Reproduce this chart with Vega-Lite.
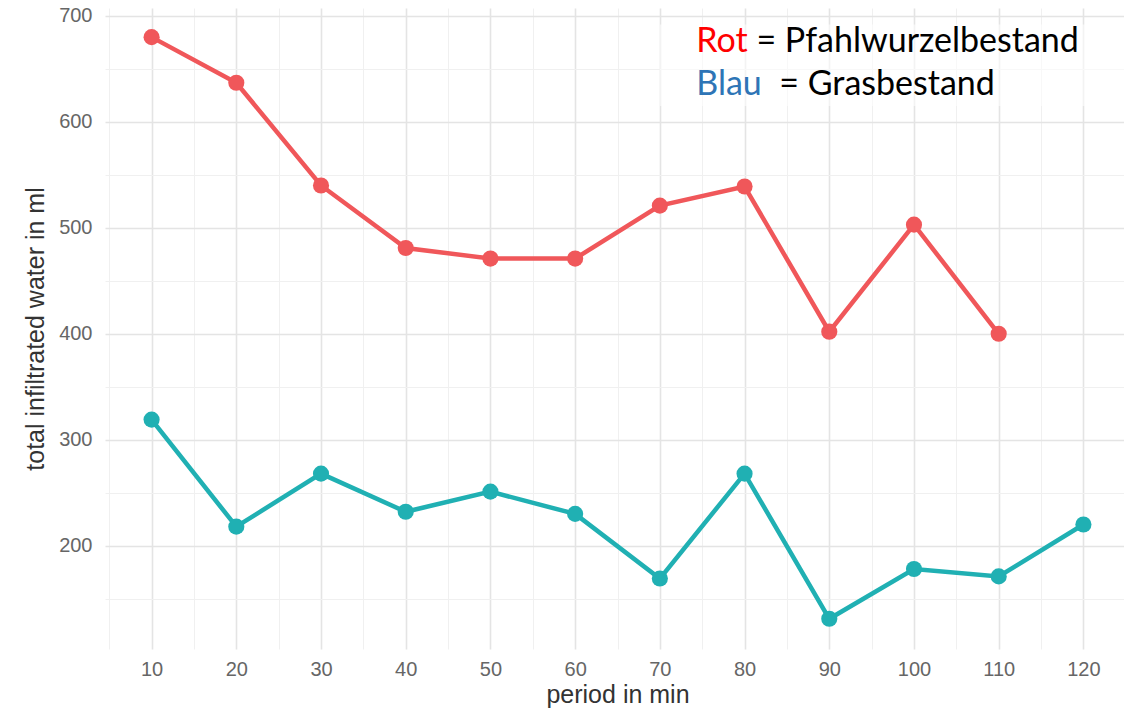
{
  "$schema": "https://vega.github.io/schema/vega-lite/v6.json",
  "width": 1025,
  "height": 641,
  "autosize": {"type": "none"},
  "padding": {"left": 105, "top": 8, "right": 0, "bottom": 66},
  "background": "white",
  "config": {
    "view": {"stroke": null},
    "axis": {
      "labelFont": "Liberation Sans",
      "titleFont": "Liberation Sans",
      "labelFontSize": 20,
      "titleFontSize": 25,
      "labelColor": "#666666",
      "titleColor": "#333333",
      "titleFontWeight": "normal",
      "ticks": false,
      "domain": false,
      "labelOverlap": false,
      "labelFlush": false
    }
  },
  "layer": [
    {
      "data": {
        "values": [
          {"period": 10, "value": 680, "series": "Pfahlwurzelbestand"},
          {"period": 20, "value": 637, "series": "Pfahlwurzelbestand"},
          {"period": 30, "value": 540, "series": "Pfahlwurzelbestand"},
          {"period": 40, "value": 481, "series": "Pfahlwurzelbestand"},
          {"period": 50, "value": 471, "series": "Pfahlwurzelbestand"},
          {"period": 60, "value": 471, "series": "Pfahlwurzelbestand"},
          {"period": 70, "value": 521, "series": "Pfahlwurzelbestand"},
          {"period": 80, "value": 539, "series": "Pfahlwurzelbestand"},
          {"period": 90, "value": 402, "series": "Pfahlwurzelbestand"},
          {"period": 100, "value": 503, "series": "Pfahlwurzelbestand"},
          {"period": 110, "value": 400, "series": "Pfahlwurzelbestand"},
          {"period": 10, "value": 319, "series": "Grasbestand"},
          {"period": 20, "value": 218, "series": "Grasbestand"},
          {"period": 30, "value": 268, "series": "Grasbestand"},
          {"period": 40, "value": 232, "series": "Grasbestand"},
          {"period": 50, "value": 251, "series": "Grasbestand"},
          {"period": 60, "value": 230, "series": "Grasbestand"},
          {"period": 70, "value": 169, "series": "Grasbestand"},
          {"period": 80, "value": 268, "series": "Grasbestand"},
          {"period": 90, "value": 131, "series": "Grasbestand"},
          {"period": 100, "value": 178, "series": "Grasbestand"},
          {"period": 110, "value": 171, "series": "Grasbestand"},
          {"period": 120, "value": 220, "series": "Grasbestand"}
        ]
      },
      "encoding": {
        "x": {
          "field": "period",
          "type": "quantitative",
          "scale": {"domain": [4.5, 125.5], "nice": false, "zero": false},
          "axis": {
            "title": "period in min",
            "values": [5, 10, 15, 20, 25, 30, 35, 40, 45, 50, 55, 60, 65, 70, 75, 80, 85, 90, 95, 100, 105, 110, 115, 120, 125],
            "labelExpr": "datum.value % 10 == 0 ? datum.label : ''",
            "gridColor": {"condition": {"test": "datum.value % 10 == 0", "value": "#E4E4E4"}, "value": "#F0F0F0"},
            "gridWidth": {"condition": {"test": "datum.value % 10 == 0", "value": 1.6}, "value": 1},
            "labelPadding": 10,
            "titlePadding": 3
          }
        },
        "y": {
          "field": "value",
          "type": "quantitative",
          "scale": {"domain": [102.5, 707.5], "nice": false, "zero": false},
          "axis": {
            "title": "total infiltrated water in ml",
            "values": [150, 200, 250, 300, 350, 400, 450, 500, 550, 600, 650, 700],
            "labelExpr": "datum.value % 100 == 0 ? datum.label : ''",
            "gridColor": {"condition": {"test": "datum.value % 100 == 0", "value": "#E4E4E4"}, "value": "#F0F0F0"},
            "gridWidth": {"condition": {"test": "datum.value % 100 == 0", "value": 1.6}, "value": 1},
            "labelPadding": 13,
            "titlePadding": 10
          }
        },
        "color": {
          "field": "series",
          "type": "nominal",
          "scale": {"domain": ["Pfahlwurzelbestand", "Grasbestand"], "range": ["#F0575A", "#20B0B3"]},
          "legend": null
        }
      },
      "layer": [
        {"mark": {"type": "line", "strokeWidth": 4.5}},
        {"mark": {"type": "point", "filled": true, "size": 260, "opacity": 1}}
      ]
    },
    {
      "data": {"values": [{"note": "legend box"}]},
      "mark": {"type": "rect", "opacity": 0.55, "color": "white"},
      "encoding": {
        "x": {"datum": 70, "type": "quantitative"},
        "x2": {"datum": 125.5},
        "y": {"datum": 692, "type": "quantitative"},
        "y2": {"datum": 615}
      }
    },
    {
      "data": {"values": [{"note": "Rot"}]},
      "mark": {"type": "text", "align": "left", "baseline": "alphabetic", "font": "Lato", "fontSize": 34, "color": "#FF0000"},
      "encoding": {
        "x": {"datum": 74.3, "type": "quantitative"},
        "y": {"datum": 666, "type": "quantitative"},
        "text": {"value": "Rot"}
      }
    },
    {
      "data": {"values": [{"note": "Pfahl"}]},
      "mark": {"type": "text", "align": "left", "baseline": "alphabetic", "font": "Lato", "fontSize": 34, "color": "#000000"},
      "encoding": {
        "x": {"datum": 81.4, "type": "quantitative"},
        "y": {"datum": 666, "type": "quantitative"},
        "text": {"value": "= Pfahlwurzelbestand"}
      }
    },
    {
      "data": {"values": [{"note": "Blau"}]},
      "mark": {"type": "text", "align": "left", "baseline": "alphabetic", "font": "Lato", "fontSize": 34, "color": "#2E75B6"},
      "encoding": {
        "x": {"datum": 74.3, "type": "quantitative"},
        "y": {"datum": 625.5, "type": "quantitative"},
        "text": {"value": "Blau"}
      }
    },
    {
      "data": {"values": [{"note": "Gras"}]},
      "mark": {"type": "text", "align": "left", "baseline": "alphabetic", "font": "Lato", "fontSize": 34, "color": "#000000"},
      "encoding": {
        "x": {"datum": 84.1, "type": "quantitative"},
        "y": {"datum": 625.5, "type": "quantitative"},
        "text": {"value": "= Grasbestand"}
      }
    }
  ]
}
